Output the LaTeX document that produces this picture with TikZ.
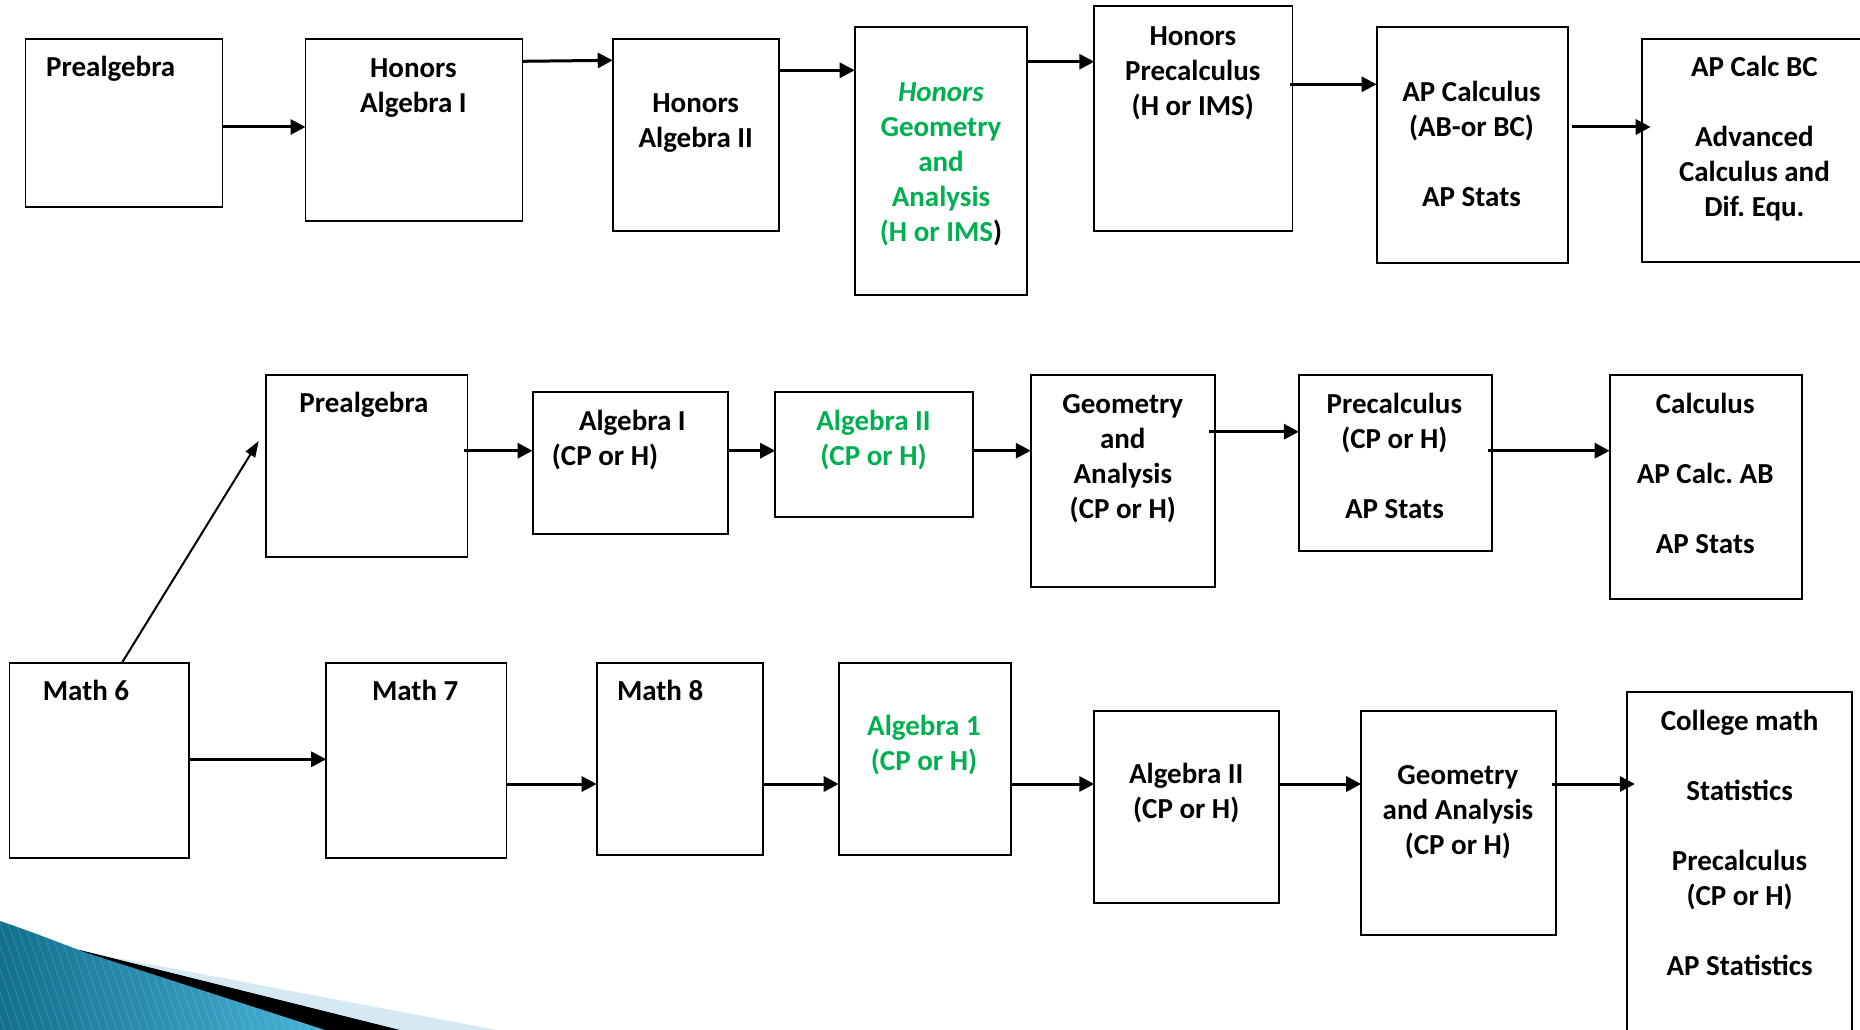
\documentclass[tikz,border=0pt]{standalone}
\usepackage{fontspec}
\setmainfont{Carlito}
\usetikzlibrary{arrows.meta}
\frenchspacing
\definecolor{grn}{HTML}{00B050}
\definecolor{lblue}{HTML}{D5E9F2}
\definecolor{dteal}{HTML}{12708E}
\definecolor{lteal}{HTML}{49B4D8}
\newcommand\mkbox[5]{%
  \pgfmathsetmacro\mkbw{#4-#2}\pgfmathsetmacro\mkbh{#5-#3}%
  \pgfmathsetmacro\mkbx{(#2+#4)/2}\pgfmathsetmacro\mkby{(#3+#5)/2}%
  \node[box, minimum width=\mkbw pt, minimum height=\mkbh pt] (#1) at (\mkbx,\mkby) {};}
\tikzset{
  box/.style={draw=black, line width=1.8pt, fill=none, inner sep=0pt, outer sep=0pt},
  txt/.style={font=\bfseries\fontsize{29}{35}\selectfont\frenchspacing, align=center, inner sep=0pt, anchor=north},
  ltxt/.style={txt, align=left, anchor=north west},
  arr/.style={-{Triangle[length=15pt,width=15pt]}, line width=3pt},
  darr/.style={-{Triangle[length=16pt,width=11pt]}, line width=2pt},
}
\newcommand\tr{\rule{0pt}{25pt}}
\begin{document}
\begin{tikzpicture}[x=1pt,y=-1pt]
\clip (0,0) rectangle (1860,1030);
\fill[white] (0,0) rectangle (1860,1030);
% corner swoosh
\fill[lblue] (80,951) -- (497,1030) -- (0,1030) -- cycle;
\fill[black] (80,950) -- (400,1030) -- (0,1030) -- cycle;
\begin{scope}
\clip (0,921) .. controls (30,931) and (60,943) .. (87,953) -- (325,1030) -- (0,1030) -- cycle;
\shade[left color=dteal, right color=lteal] (0,915) rectangle (330,1030);
\foreach \i in {-120,-112,...,340} \draw[white, opacity=0.13, line width=0.9pt] (\i,900) -- (\i+45,1030);
\end{scope}
% top row
\mkbox{A1}{25.5}{38.7}{222.4}{207.3}
\mkbox{A2}{305.5}{38.7}{522.5}{220.7}
\mkbox{A3}{612.7}{38.7}{778.8}{230.7}
\mkbox{A4}{854.7}{27.3}{1027.3}{295}
\mkbox{A5}{1094.3}{6.3}{1292.4}{230.7}
\mkbox{A6}{1376.6}{27.3}{1567.6}{263.3}
\mkbox{A7}{1641.7}{38.7}{1867}{261.7}
\node[ltxt] (tA1) at (46,50.9) {\tr Prealgebra};
\node[txt] (tA2) at (413.4,51.9) {\tr Honors\\Algebra I};
\node[txt] (tA3) at (695.7,86.9) {\tr Honors\\Algebra II};
\node[txt, text=grn] (tA4) at (941,75.9) {\tr\textit{Honors}\\Geometry\\and\\Analysis\\(H or IMS\textcolor{black}{)}};
\node[txt] (tA5) at (1192.8,19.9) {\tr Honors\\Precalculus\\(H or IMS)};
\node[txt] (tA6) at (1471.5,75.9) {\tr AP Calculus\\(AB-or BC)\\[35pt]AP Stats};
\node[txt] (tA7) at (1754.4,50.9) {\tr AP Calc BC\\[35pt]Advanced\\Calculus and\\Dif. Equ.};
\draw[arr] (A1.east |- 0,127) -- (A2.west |- 0,127);
\draw[arr] (A2.east |- 0,61.3) -- (A3.west |- 0,60.3);
\draw[arr] (A3.east |- 0,70.3) -- (A4.west |- 0,70.3);
\draw[arr] (A4.east |- 0,61.7) -- (A5.west |- 0,61.7);
\draw[arr] ([xshift=-2pt]A5.east |- 0,84.3) -- (A6.west |- 0,84.3);
\draw[arr] ([xshift=4.5pt]A6.east |- 0,127) -- ([xshift=9pt]A7.west |- 0,127);
% middle row
\mkbox{B1}{265.7}{374.7}{467.4}{557}
\mkbox{B2}{532.6}{391.7}{727.8}{533.7}
\mkbox{B3}{775.2}{391.7}{972.7}{517.3}
\mkbox{B4}{1030.8}{375.3}{1214.7}{587.3}
\mkbox{B5}{1298.9}{375.3}{1491.7}{551}
\mkbox{B6}{1609.7}{374.7}{1801.9}{598.7}
\node[txt] (tB1) at (364,387.5) {\tr Prealgebra};
\node[txt] (tB2a) at (632.3,405.2) {\tr Algebra I};
\node[txt] (tB2b) at (605,439.9) {\tr (CP or H)};
\node[txt, text=grn] (tB3) at (873.5,405.2) {\tr Algebra II\\(CP or H)};
\node[txt] (tB4) at (1122.8,388.5) {\tr Geometry\\and\\Analysis\\(CP or H)};
\node[txt] (tB5) at (1394.4,388.5) {\tr Precalculus\\(CP or H)\\[35pt]AP Stats};
\node[txt] (tB6) at (1705.2,388.5) {\tr Calculus\\[35pt]AP Calc. AB\\[35pt]AP Stats};
\draw[arr] ([xshift=-3.5pt]B1.east |- 0,450.7) -- (B2.west |- 0,450.7);
\draw[arr] (B2.east |- 0,450.7) -- (B3.west |- 0,450.7);
\draw[arr] (B3.east |- 0,450.7) -- (B4.west |- 0,450.7);
\draw[arr] ([xshift=-6pt]B4.east |- 0,431.7) -- (B5.west |- 0,431.7);
\draw[arr] ([xshift=-4pt]B5.east |- 0,450.7) -- (B6.west |- 0,450.7);
% bottom row
\mkbox{C1}{9.5}{662.7}{188.6}{857.7}
\mkbox{C2}{326.2}{662.7}{506.5}{857.7}
\mkbox{C3}{596.7}{662.7}{762.8}{854.7}
\mkbox{C4}{838.7}{662.7}{1011.3}{854.7}
\mkbox{C5}{1094.3}{710.7}{1278.8}{902.7}
\mkbox{C6}{1361.2}{710.7}{1555.7}{935}
\mkbox{C7}{1626.9}{692.3}{1852.3}{1045}
\node[ltxt] (tC1) at (42.7,675.2) {\tr Math 6};
\node[txt] (tC2) at (415.2,675.2) {\tr Math 7};
\node[ltxt] (tC3) at (616.8,675.2) {\tr Math 8};
\node[txt, text=grn] (tC4) at (924,710.7) {\tr Algebra 1\\(CP or H)};
\node[txt] (tC5) at (1186.2,758.2) {\tr Algebra II\\(CP or H)};
\node[txt] (tC6) at (1457.9,759.2) {\tr Geometry\\and Analysis\\(CP or H)};
\node[txt] (tC7) at (1739.6,705.2) {\tr College math\\[35pt]Statistics\\[35pt]Precalculus\\(CP or H)\\[35pt]AP Statistics};
\draw[arr] (C1.east |- 0,759.3) -- (C2.west |- 0,759.3);
\draw[arr] (C2.east |- 0,784) -- (C3.west |- 0,784);
\draw[arr] (C3.east |- 0,784) -- (C4.west |- 0,784);
\draw[arr] (C4.east |- 0,784) -- (C5.west |- 0,784);
\draw[arr] (C5.east |- 0,784) -- (C6.west |- 0,784);
\draw[arr] ([xshift=-4pt]C6.east |- 0,784) -- ([xshift=8pt]C7.west |- 0,784);
\draw[darr] ([xshift=112.5pt]C1.north west) -- ([xshift=-7pt]B1.west |- 0,441);
\end{tikzpicture}
\end{document}
